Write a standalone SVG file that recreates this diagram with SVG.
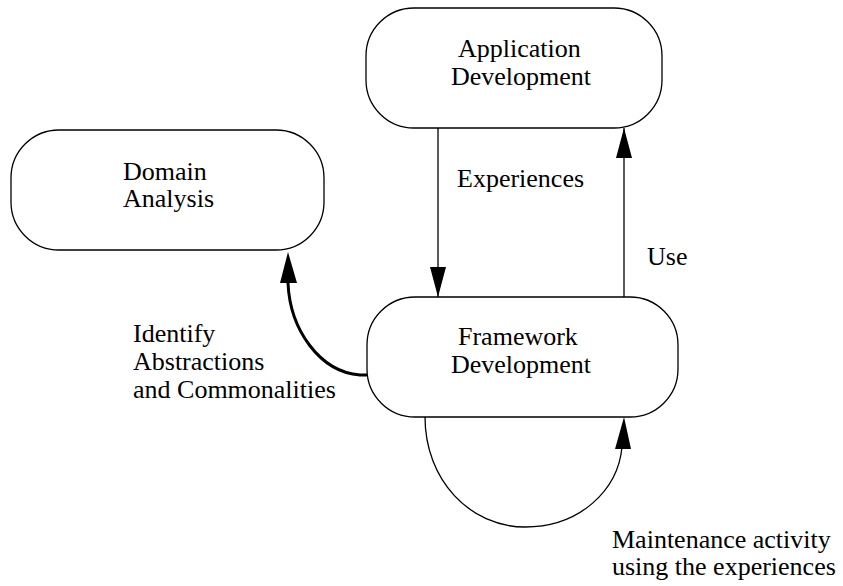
<svg xmlns="http://www.w3.org/2000/svg" width="843" height="586" viewBox="0 0 843 586">
<defs>
<style>
.box{fill:#fff;stroke:#000;stroke-width:1.3}
text{font-family:'Liberation Serif','Times New Roman',Tinos,serif;font-size:26px;fill:#000}
.c{stroke:#000;fill:none;stroke-width:1.3}
.b{stroke:#000;fill:none;stroke-width:3}
</style>
<marker id="ah" viewBox="0 0 30 16" refX="30" refY="8" markerWidth="30" markerHeight="16" markerUnits="userSpaceOnUse" orient="auto">
<path d="M0,0 L30,8 L0,16 Z" fill="#000"/>
</marker>
</defs>
<rect width="843" height="586" fill="#fff"/>
<g id="app">
<rect class="box" x="366" y="8" width="296" height="120" rx="48" ry="48"/>
<text x="458" y="57">Application</text>
<text x="451" y="85">Development</text>
</g>
<g id="domain">
<rect class="box" x="11" y="130" width="313" height="120" rx="48" ry="48"/>
<text x="123" y="180">Domain</text>
<text x="123" y="207">Analysis</text>
</g>
<g id="framework">
<rect class="box" x="367" y="297" width="311" height="120" rx="48" ry="48"/>
<text x="458" y="345">Framework</text>
<text x="451" y="373">Development</text>
</g>
<g id="connectors">
<line class="c" x1="438" y1="128" x2="438" y2="297" marker-end="url(#ah)"/>
<line class="c" x1="624" y1="297" x2="624" y2="128" marker-end="url(#ah)"/>
<path class="b" d="M367,375 L360,375 C320,372 290,330 288,283"/>
<path d="M280,283 L297,283 L288,252 Z" fill="#000"/>
<path class="c" d="M425,417 C425,480 470,527 525,527 C580,527 618,490 622,447"/>
<path d="M615,449 L631,449 L624,417 Z" fill="#000"/>
<text x="457" y="187">Experiences</text>
<text x="647" y="265">Use</text>
<text x="133" y="342">Identify</text>
<text x="133" y="370">Abstractions</text>
<text x="133" y="398">and Commonalities</text>
<text x="612" y="548">Maintenance activity</text>
<text x="612" y="575">using the experiences</text>
</g>
</svg>
